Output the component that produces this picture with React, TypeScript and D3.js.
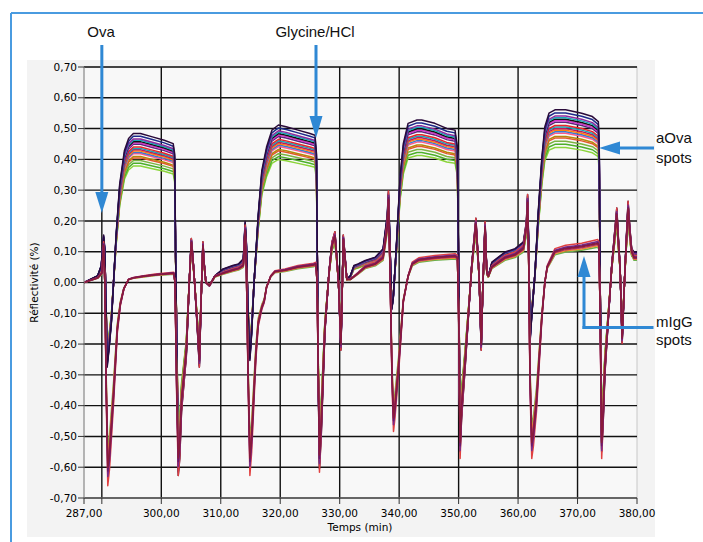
import React from 'react';
import * as d3 from 'd3';

// sensorgram traces: [time (min), reflectivity (%)]
const aOvaTrace: [number, number][] = [
  [287.0, 0.0], [289.3, 0.02], [289.9, 0.05], [290.3, 0.14], [290.5, 0.1],
  [290.9, -0.25], [291.2, -0.2], [291.6, -0.12], [292.4, 0.14], [293.0, 0.29],
  [293.8, 0.39], [294.5, 0.425], [295.3, 0.44], [296.5, 0.44], [298.5, 0.43],
  [300.5, 0.42], [302.0, 0.41], [302.25, 0.38], [302.4, 0.1], [302.6, -0.2],
  [302.85, -0.57], [303.1, -0.52], [303.4, -0.38], [304.2, -0.22], [304.7, 0.0],
  [305.05, 0.13], [305.3, 0.08], [305.6, 0.0], [306.1, -0.15], [306.4, -0.25],
  [306.7, -0.05], [307.0, 0.12], [307.2, 0.06], [307.5, 0.0], [308.1, -0.01],
  [309.0, 0.02], [310.4, 0.04], [312.0, 0.05], [313.0, 0.055], [313.8, 0.07],
  [314.1, 0.18], [314.3, 0.12], [314.6, -0.1], [314.9, -0.23], [315.2, -0.15],
  [315.6, 0.0], [316.3, 0.2], [316.9, 0.33], [317.7, 0.4], [318.6, 0.45],
  [319.7, 0.465], [321.0, 0.46], [323.0, 0.45], [325.0, 0.44], [325.85, 0.435],
  [326.1, 0.38], [326.25, 0.05], [326.4, -0.3], [326.6, -0.55], [326.9, -0.45],
  [327.5, -0.15], [328.2, 0.03], [328.7, 0.12], [329.2, 0.15], [329.5, 0.08],
  [329.8, 0.0], [330.2, -0.2], [330.4, -0.05], [330.6, 0.14], [330.8, 0.1],
  [331.2, 0.01], [331.8, 0.02], [332.4, 0.05], [333.1, 0.055], [334.3, 0.065], [336.0, 0.075],
  [337.3, 0.1], [338.0, 0.2], [338.2, 0.27], [338.45, 0.12], [338.75, -0.08],
  [339.0, -0.05], [339.6, 0.13], [340.15, 0.31], [340.7, 0.41], [341.5, 0.47],
  [343.0, 0.48], [343.8, 0.48], [346.0, 0.47], [348.0, 0.455], [349.4, 0.45],
  [349.8, 0.4], [350.0, 0.05], [350.25, -0.5], [350.5, -0.4], [351.1, -0.25],
  [352.2, 0.05], [352.9, 0.19], [353.2, 0.1], [353.45, 0.02], [353.8, -0.2],
  [354.1, 0.0], [354.45, 0.18], [354.6, 0.1], [354.75, 0.03], [355.0, 0.02],
  [355.6, 0.06], [357.8, 0.09], [359.5, 0.1], [360.9, 0.12], [361.4, 0.18],
  [361.6, 0.26], [361.8, 0.1], [362.0, -0.18], [362.3, -0.1], [362.85, 0.03],
  [363.4, 0.21], [364.0, 0.37], [364.5, 0.46], [365.2, 0.5], [366.2, 0.51],
  [368.0, 0.51], [370.7, 0.5], [372.5, 0.49], [373.5, 0.475], [373.65, 0.4],
  [373.8, 0.0], [374.06, -0.5], [374.3, -0.42], [374.6, -0.27], [375.75, 0.05],
  [376.6, 0.22], [376.9, 0.12], [377.15, 0.05], [377.5, -0.18], [378.0, 0.05],
  [378.5, 0.24], [378.8, 0.16], [379.1, 0.1], [379.5, 0.09], [380.0, 0.09],
];

const mIgGTrace: [number, number][] = [
  [287.0, 0.0], [289.3, 0.015], [290.0, 0.03], [290.3, 0.12], [290.5, 0.0],
  [290.75, -0.35], [291.0, -0.6], [291.3, -0.55], [292.0, -0.35], [292.6, -0.15],
  [293.1, -0.07], [293.7, -0.02], [294.5, 0.01], [295.3, 0.015], [297.0, 0.02],
  [299.0, 0.025], [302.1, 0.03], [302.3, 0.0], [302.6, -0.35], [302.85, -0.57],
  [303.1, -0.52], [303.4, -0.38], [304.2, -0.22], [304.7, 0.0], [305.05, 0.13],
  [305.3, 0.08], [305.6, 0.0], [306.1, -0.15], [306.4, -0.25], [306.7, -0.05],
  [307.0, 0.12], [307.2, 0.06], [307.5, 0.0], [308.1, -0.01], [309.0, 0.02],
  [310.4, 0.03], [312.0, 0.04], [313.0, 0.045], [313.8, 0.055], [314.1, 0.17],
  [314.3, 0.05], [314.6, -0.3], [314.9, -0.57], [315.2, -0.5], [315.9, -0.23],
  [316.3, -0.13], [316.9, -0.08], [317.3, -0.06], [317.7, -0.015], [318.4, 0.02],
  [319.1, 0.035], [320.8, 0.04], [323.0, 0.05], [325.6, 0.057], [326.0, 0.06],
  [326.2, 0.0], [326.4, -0.3], [326.6, -0.56], [326.9, -0.45], [327.5, -0.15],
  [328.2, 0.03], [328.7, 0.12], [329.2, 0.15], [329.5, 0.08], [329.8, 0.0],
  [330.2, -0.2], [330.4, -0.05], [330.6, 0.14], [330.8, 0.1], [331.2, 0.01],
  [331.8, 0.01], [333.1, 0.03], [334.3, 0.05], [336.0, 0.06], [337.3, 0.08],
  [338.0, 0.18], [338.2, 0.27], [338.45, 0.05], [338.8, -0.3], [339.05, -0.44],
  [339.3, -0.4], [339.9, -0.27], [340.7, -0.06], [341.5, 0.02], [342.2, 0.06],
  [343.3, 0.073], [346.0, 0.08], [349.4, 0.085], [349.8, 0.08], [350.0, -0.1],
  [350.25, -0.52], [350.5, -0.4], [351.1, -0.25], [352.2, 0.05], [352.9, 0.19],
  [353.2, 0.1], [353.45, 0.02], [353.8, -0.2], [354.1, 0.0], [354.45, 0.18],
  [354.6, 0.1], [354.75, 0.03], [355.0, 0.02], [355.6, 0.05], [357.8, 0.08],
  [359.5, 0.09], [360.9, 0.11], [361.4, 0.18], [361.6, 0.26], [361.8, 0.05],
  [362.0, -0.3], [362.3, -0.52], [362.6, -0.48], [363.1, -0.38], [364.0, -0.11],
  [364.5, 0.0], [364.9, 0.05], [366.2, 0.1], [368.0, 0.11], [370.7, 0.116],
  [373.4, 0.127], [373.6, 0.12], [373.8, -0.1], [374.06, -0.52], [374.3, -0.42],
  [374.6, -0.27], [375.75, 0.05], [376.6, 0.22], [376.9, 0.12], [377.15, 0.05],
  [377.5, -0.18], [378.0, 0.05], [378.5, 0.24], [378.8, 0.16], [379.1, 0.1],
  [379.5, 0.08], [380.0, 0.08],
];

// relative response of each spot (spread of the bundle), bottom-most first
const aOvaGains = [0.86, 0.88, 0.9, 0.92, 0.93, 0.95, 0.96, 0.97, 0.98, 0.99, 1.0, 1.02, 1.03, 1.04, 1.05, 1.06, 1.08, 1.1];
const aOvaColors = ['#8bd43a', '#4caf2a', '#7cb342', '#e4572e', '#b8860b', '#ff5a8a', '#3a7ad0', '#ff7f0e', '#c2185b', '#1aa6b8', '#e8262a', '#5a2a7a', '#d42fc8', '#101010', '#1aa6b8', '#8e2a9e', '#1c2a8a', '#2a0a3a'];
const mIgGGains = [0.9, 0.94, 1.1, 1.05, 0.97, 1.02, 1.0];
const mIgGColors = ['#6ab04c', '#f08a30', '#e04040', '#7a2a8a', '#b0306a', '#6a1a6a', '#8a1a3a'];

const yTicks = [-0.7, -0.6, -0.5, -0.4, -0.3, -0.2, -0.1, 0, 0.1, 0.2, 0.3, 0.4, 0.5, 0.6, 0.7];
const xGrid = [290, 300, 310, 320, 330, 340, 350, 360, 370, 380];
const xLabels = [287, 300, 310, 320, 330, 340, 350, 360, 370, 380];

const W = 703;
const H = 542;
const blue = '#2f88d4';
const tickFont = '"DejaVu Sans", sans-serif';
const annFont = '"Liberation Sans", Arial, sans-serif';

const fmt = (v: number) => v.toFixed(2).replace('.', ',');

export default function App() {
  const x = d3.scaleLinear().domain([287, 380]).range([84, 637]);
  const y = d3.scaleLinear().domain([-0.7, 0.7]).range([498, 67]);

  const line = d3
    .line<[number, number]>()
    .x((d) => x(d[0]))
    .y((d) => y(d[1]));

  const [x0, x1] = x.range();
  const [yb, yt] = y.range();

  return (
    <svg width={W} height={H} style={{ position: 'absolute', left: 0, top: 0 }}>
      <rect width={W} height={H} fill="#fff" />
      {/* frame */}
      <line x1={11} y1={13} x2={W} y2={13} stroke="#4a9be0" strokeWidth={2} />
      <line x1={11} y1={13} x2={11} y2={H} stroke="#4a9be0" strokeWidth={2} />
      <rect x={27} y={60} width={628} height={477} fill="#f3f3f3" />
      <rect x={x0} y={yt} width={x1 - x0} height={yb - yt} fill="#f8f8f8" stroke="#c8c8c8" />

      <defs>
        <clipPath id="plot">
          <rect x={x0} y={yt - 2} width={x1 - x0} height={yb - yt + 4} />
        </clipPath>
      </defs>

      {/* grid */}
      {yTicks.map((t) => (
        <line key={'gy' + t} x1={x0} x2={x1} y1={y(t)} y2={y(t)} stroke="#111" strokeWidth={1.4} />
      ))}
      {xGrid.slice(0, -1).map((t) => (
        <line key={'gx' + t} x1={x(t)} x2={x(t)} y1={yt} y2={yb} stroke="#111" strokeWidth={1.4} />
      ))}

      {/* traces */}
      <g clipPath="url(#plot)" fill="none" strokeLinejoin="round">
        {aOvaGains.map((g, i) => (
          <path
            key={'a' + i}
            d={line(aOvaTrace.map((p) => [p[0], p[1] * g]) as [number, number][]) || ''}
            stroke={aOvaColors[i]}
            strokeWidth={1.5}
          />
        ))}
        {mIgGGains.map((g, i) => (
          <path
            key={'m' + i}
            d={line(mIgGTrace.map((p) => [p[0], p[1] * g]) as [number, number][]) || ''}
            stroke={mIgGColors[i]}
            strokeWidth={1.5}
          />
        ))}
      </g>

      {/* axes */}
      <line x1={x0} x2={x0} y1={yt} y2={yb} stroke="#888" />
      <line x1={x0} x2={x1} y1={yb} y2={yb} stroke="#888" />
      {yTicks.map((t) => (
        <g key={'ty' + t}>
          <line x1={x0 - 6} x2={x0} y1={y(t)} y2={y(t)} stroke="#333" />
          <text x={x0 - 7} y={y(t)} dy="0.35em" textAnchor="end" fontFamily={tickFont} fontSize={10.5} fill="#000">
            {fmt(t)}
          </text>
        </g>
      ))}
      {[287, ...xGrid].map((t) => (
        <line key={'tx' + t} x1={x(t)} x2={x(t)} y1={yb} y2={yb + 6} stroke="#333" />
      ))}
      {xLabels.map((t) => (
        <text key={'lx' + t} x={x(t)} y={yb + 19} textAnchor="middle" fontFamily={tickFont} fontSize={10.5} fill="#000">
          {fmt(t)}
        </text>
      ))}
      <text x={360} y={531} textAnchor="middle" fontFamily={tickFont} fontSize={10.5} fill="#000">
        Temps (min)
      </text>
      <text
        transform={`translate(38,${(yt + yb) / 2}) rotate(-90)`}
        textAnchor="middle"
        fontFamily={tickFont}
        fontSize={10.5}
        fill="#000"
      >
        Réflectivité (%)
      </text>

      {/* annotations */}
      <g fill={blue} stroke="none">
        <rect x={x(290) - 1.5} y={45} width={3} height={150} />
        <polygon points={`${x(290) - 6.5},192 ${x(290) + 6.5},192 ${x(290)},213`} />
        <rect x={314.5} y={45} width={3} height={72} />
        <polygon points="309.5,116 322.5,116 316,138" />
        <rect x={618} y={146.5} width={36} height={3} />
        <polygon points="620,141.5 620,154.5 599,148" />
        <rect x={582.5} y={275} width={3} height={54} />
        <rect x={582.5} y={326} width={71} height={3} />
        <polygon points="577.5,277 590.5,277 584,256" />
      </g>
      <g fontFamily={annFont} fontSize={15} fill="#111">
        <text x={101} y={37} textAnchor="middle">Ova</text>
        <text x={315} y={37} textAnchor="middle">Glycine/HCl</text>
        <text x={656} y={143}>aOva</text>
        <text x={656} y={163}>spots</text>
        <text x={656} y={327}>mIgG</text>
        <text x={656} y={345}>spots</text>
      </g>
    </svg>
  );
}
